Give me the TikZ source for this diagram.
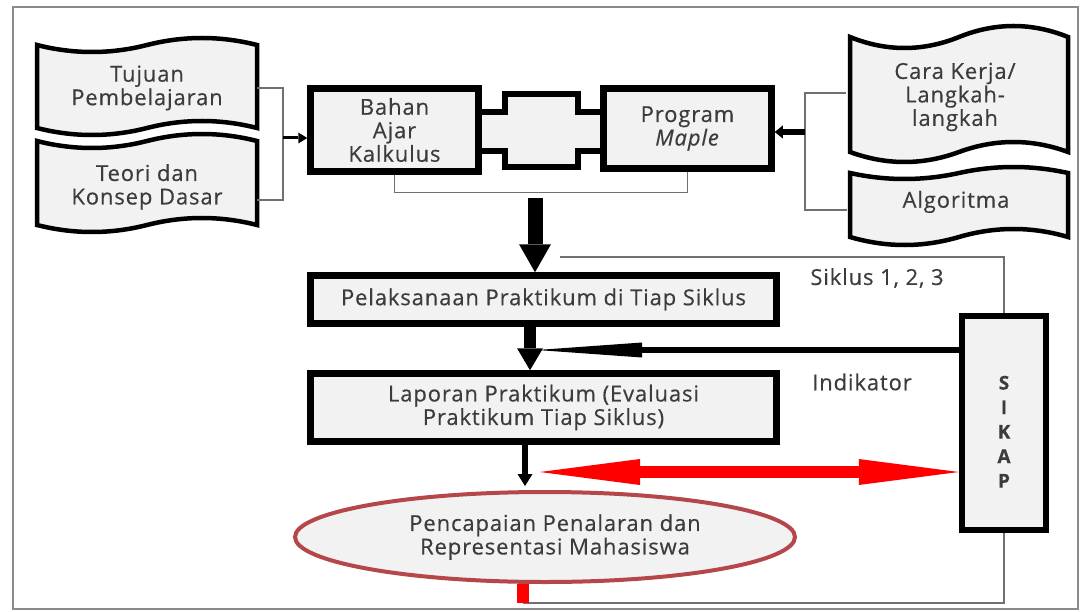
\documentclass[tikz,border=0pt]{standalone}
\usepackage{fontspec}
\setmainfont{Open Sans}[LetterSpace=4,FakeBold=0.4]
\usetikzlibrary{arrows.meta,calc,shapes.geometric}
\definecolor{boxfill}{HTML}{F2F2F2}
\definecolor{txt}{HTML}{3C3C3C}
\definecolor{ellred}{HTML}{B5474B}
\definecolor{framegray}{HTML}{8A8A8A}
\definecolor{linegray}{HTML}{707070}
\newcommand{\tapeshp}[6]{% L R T B atop abot
  \filldraw[tapestyle] (#1,#3)
   .. controls ({#1+(#2-#1)/6},{#3+4*#5/3}) and ({#1+(#2-#1)/3},{#3+4*#5/3}) .. ({(#1+#2)/2},#3)
   .. controls ({#1+2*(#2-#1)/3},{#3-4*#5/3}) and ({#1+5*(#2-#1)/6},{#3-4*#5/3}) .. (#2,#3)
   -- (#2,#4)
   .. controls ({#1+5*(#2-#1)/6},{#4-4*#6/3}) and ({#1+2*(#2-#1)/3},{#4-4*#6/3}) .. ({(#1+#2)/2},#4)
   .. controls ({#1+(#2-#1)/3},{#4+4*#6/3}) and ({#1+(#2-#1)/6},{#4+4*#6/3}) .. (#1,#4)
   -- cycle;}
\begin{document}
\begin{tikzpicture}[x=1pt,y=-1pt,
  mainfont/.style={font=\fontsize{22}{23.5}\selectfont},
  box/.style={draw=black, line width=6.5pt, fill=boxfill, text=txt, align=center, inner sep=0pt, mainfont},
  tapestyle/.style={draw=black, line width=4.5pt, fill=boxfill, line join=miter, miter limit=4},
  tapetext/.style={text=txt, align=center, inner sep=0pt, outer sep=0pt, mainfont},
  plain/.style={text=txt, align=center, inner sep=0pt, mainfont},
  thinline/.style={draw=linegray, line width=1.5pt},
]
\useasboundingbox (0,0) rectangle (1083,612);
\draw[framegray, line width=2pt] (13,7) rectangle (1078,609);

% left tapes
\tapeshp{37}{257}{45}{128}{7}{7}
\tapeshp{37}{257}{141}{225}{7}{7}
\node[tapetext, minimum width=220pt, minimum height=60pt] (tujuan) at (147,88) {Tujuan\\Pembelajaran};
\node[tapetext, minimum width=220pt, minimum height=60pt] (teori) at (147,187) {Teori dan\\Konsep Dasar};

% right tapes
\tapeshp{850}{1068}{37}{152}{11}{10}
\tapeshp{850}{1068}{173}{237}{6}{8}
\node[tapetext, minimum width=218pt, minimum height=80pt] (cara) at (955,97) {Cara Kerja/\\Langkah-\\langkah};
\node[tapetext, minimum width=218pt, minimum height=40pt] (algo) at (956,202) {Algoritma};

% connector piece between boxes
\filldraw[draw=black, fill=boxfill, line width=6.5pt, line join=miter]
  (478.5,112) -- (505,112) -- (505,94) -- (578,94) -- (578,112) -- (603.5,112)
  -- (603.5,151) -- (578,151) -- (578,167) -- (505,167) -- (505,151) -- (478.5,151) -- cycle;

% top boxes
\node[box, minimum width=168pt, minimum height=83pt] (bahan) at (394.5,130) {Bahan\\Ajar\\Kalkulus};
\node[box, minimum width=168pt, minimum height=80pt] (program) at (687.5,128.5) {Program\\\textit{Maple}};

% main boxes
\node[box, minimum width=466pt, minimum height=48pt] (pelak) at (543.5,299.5) {Pelaksanaan Praktikum di Tiap Siklus};
\node[box, minimum width=466pt, minimum height=68pt] (lapor) at (543.5,407.5) {Laporan Praktikum (Evaluasi\\Praktikum Tiap Siklus)};
\node[box, minimum width=84pt, minimum height=214pt, font=\fontsize{19}{24.5}\selectfont\bfseries] (sikap) at (1004,423) {\strut\\[-10.5pt]S\\I\\K\\A\\P};

\node[ellipse, draw=ellred, line width=4pt, fill=boxfill, text=txt, align=center, inner sep=0pt,
      minimum width=500pt, minimum height=90pt, mainfont] (capai) at (545,537)
      {\hspace*{20pt}Pencapaian Penalaran dan\\\hspace*{20pt}Representasi Mahasiswa};

\node[plain, anchor=center] (siklus) at (877,278) {Siklus 1, 2, 3};
\node[plain, anchor=center] (indik) at (862,382) {Indikator};

% brackets
\coordinate (lb) at (283,138);
\draw[thinline] (tujuan.east) -| (lb) |- ([yshift=-13pt]teori.east);
\draw[black, line width=3pt, -{Triangle[length=9pt,width=11pt,line width=0pt]}] (lb) -- (lb -| bahan.west);

\coordinate (rb) at (805,132);
\draw[thinline] ([yshift=4pt]cara.west) -| (rb) |- ([yshift=-8pt]algo.west);
\draw[black, line width=6pt, -{Triangle[length=8pt,width=13pt,line width=0pt]}] (rb) -- (rb -| program.east);

\draw[thinline] (bahan.south) -- ++(0,18) -| (program.south);

% vertical flow
\coordinate (bigtop) at (535,198);
\draw[black, line width=15pt, -{Triangle[length=28pt,width=32pt,line width=0pt]}] (bigtop) -- (bigtop |- pelak.north);
\draw[black, line width=12pt, -{Triangle[length=22pt,width=26pt,line width=0pt]}] ([xshift=-13.5pt]pelak.south) -- ([xshift=-13.5pt]lapor.north);
\draw[black, line width=6pt, -{Triangle[length=12pt,width=15pt,line width=0pt]}] ([xshift=-18.5pt]lapor.south) -- ([xshift=-20pt,yshift=4pt]capai.north);

% sikap loop lines
\coordinate (tl) at (560,257);
\draw[thinline] (tl) -- (tl -| sikap.north) -- (sikap.north);
\coordinate (stubbot) at (523,603);
\draw[thinline] (sikap.south) -- (sikap.south |- stubbot) -- (stubbot);
\draw[red, line width=12pt] (capai.south -| stubbot) -- (stubbot);

% sikap arrows
\coordinate (sat) at (537,350);
\draw[black, line width=6pt, -{Triangle[length=105pt,width=15pt,line width=0pt]}] (sikap.west |- sat) -- (sat);
\coordinate (rat) at (540,472);
\draw[red, line width=12pt, {Triangle[length=100pt,width=26pt,line width=0pt]}-{Triangle[length=100pt,width=26pt,line width=0pt]}] (rat) -- (rat -| sikap.west);
\end{tikzpicture}
\end{document}
